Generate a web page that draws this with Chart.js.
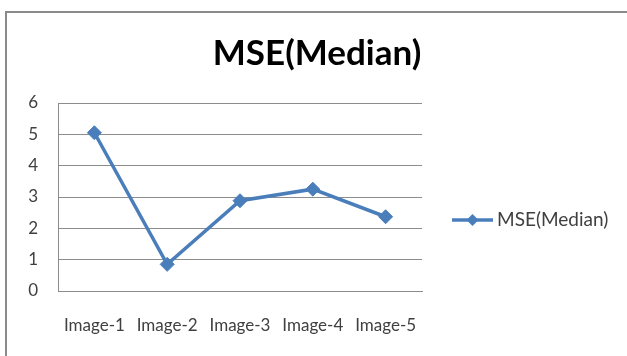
<!DOCTYPE html>
<html>
<head>
<meta charset="utf-8">
<script src="https://cdn.jsdelivr.net/npm/chart.js@4/dist/chart.umd.min.js"></script>
<style>
  html, body { margin: 0; padding: 0; background: #fff; }
  #wrap { position: relative; width: 627px; height: 356px; }
</style>
</head>
<body>
<div id="wrap"><canvas id="c" width="627" height="356"></canvas></div>
<script>
// MSE of the median filter per test image
const categories = ['Image-1', 'Image-2', 'Image-3', 'Image-4', 'Image-5'];
const mseMedian = [5.05, 0.85, 2.88, 3.25, 2.37];
const yTicks = [0, 1, 2, 3, 4, 5, 6];
const seriesName = 'MSE(Median)';
const chartTitle = 'MSE(Median)';

const FONT = 'Lato, "Open Sans", sans-serif';
const BLUE = '#4a7ebb';
const TEXT = '#404040';
const GRID = '#8c8c8c';

// Gray frame along the top and left edges, plus the title centred on the whole canvas
const framePlugin = {
  id: 'frame',
  beforeDraw(chart) {
    const ctx = chart.ctx;
    ctx.save();
    ctx.strokeStyle = '#8a8a8a';
    ctx.lineWidth = 2;
    ctx.beginPath();
    ctx.moveTo(6, chart.height);
    ctx.lineTo(6, 12);
    ctx.lineTo(chart.width, 12);
    ctx.stroke();
    ctx.fillStyle = '#000';
    ctx.font = 'bold 35px ' + FONT;
    ctx.textAlign = 'center';
    ctx.textBaseline = 'middle';
    ctx.fillText(chartTitle, 317, 54);
    ctx.restore();
  }
};

// Legend on the right: line segment with a diamond marker, then the series label
const sideLegend = {
  id: 'sideLegend',
  afterDraw(chart) {
    const ds = chart.data.datasets[0];
    const ctx = chart.ctx;
    const y = 220, x0 = 452, x1 = 493, xm = (x0 + x1) / 2;
    ctx.save();
    ctx.strokeStyle = ds.borderColor;
    ctx.lineWidth = ds.borderWidth;
    ctx.beginPath();
    ctx.moveTo(x0, y);
    ctx.lineTo(x1, y);
    ctx.stroke();
    ctx.fillStyle = ds.pointBackgroundColor;
    const r = 6;
    ctx.beginPath();
    ctx.moveTo(xm, y - r);
    ctx.lineTo(xm + r, y);
    ctx.lineTo(xm, y + r);
    ctx.lineTo(xm - r, y);
    ctx.closePath();
    ctx.fill();
    ctx.fillStyle = TEXT;
    ctx.font = '19px ' + FONT;
    ctx.textBaseline = 'middle';
    ctx.textAlign = 'left';
    ctx.fillText(ds.label, 497, y);
    ctx.restore();
  }
};

new Chart(document.getElementById('c'), {
  type: 'line',
  data: {
    labels: categories,
    datasets: [{
      label: seriesName,
      data: mseMedian,
      borderColor: BLUE,
      backgroundColor: BLUE,
      pointBackgroundColor: BLUE,
      pointBorderColor: BLUE,
      borderWidth: 3.5,
      pointStyle: 'rectRot',
      pointRadius: 7,
      pointBorderWidth: 1,
      tension: 0,
      fill: false
    }]
  },
  options: {
    responsive: false,
    animation: false,
    devicePixelRatio: 1,
    layout: { padding: { left: 0, right: 205, top: 103, bottom: 0 } },
    plugins: {
      legend: { display: false },
      tooltip: { enabled: false },
      title: { display: false }
    },
    scales: {
      x: {
        offset: true,
        grid: { display: false, drawTicks: false },
        border: { display: true, color: GRID, width: 1 },
        ticks: {
          color: TEXT,
          font: { family: FONT, size: 17 },
          padding: 24,
          maxRotation: 0,
          autoSkip: false
        },
        afterFit(scale) { scale.height = 65; }
      },
      y: {
        min: 0,
        max: 6,
        afterBuildTicks(scale) { scale.ticks = yTicks.map(v => ({ value: v })); },
        grid: { color: GRID, lineWidth: 1, drawTicks: false },
        border: { display: true, color: GRID, width: 1 },
        ticks: {
          color: TEXT,
          font: { family: FONT, size: 17 },
          padding: 20
        },
        afterFit(scale) { scale.width = 58; }
      }
    }
  },
  plugins: [framePlugin, sideLegend]
});
</script>
</body>
</html>
